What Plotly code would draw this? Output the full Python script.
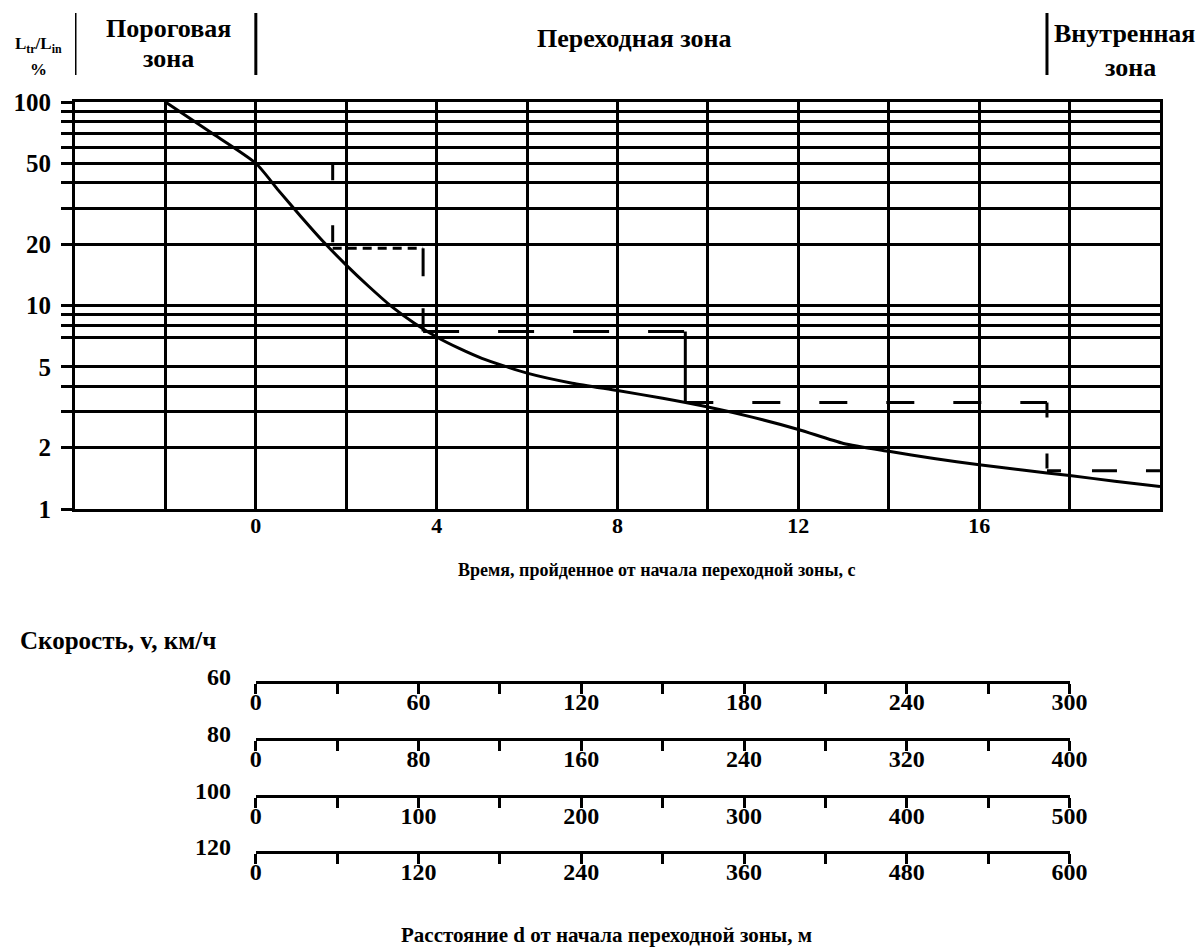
import plotly.graph_objects as go

# ---------------- data ----------------
# Main curve: L_tr/L_in (%) versus time from the start of the transition zone (s)
curve_t = [-2, -1, 0, 0.5, 1, 1.5, 2, 2.5, 3, 3.5, 4, 4.5, 5, 6, 7, 8, 9, 10, 11, 12, 13, 14, 15, 16, 17, 18, 19, 20]
curve_L = [100, 71, 50, 36.8, 27.3, 20.5, 15.8, 12.4, 9.9, 8.2, 7.0, 6.15, 5.5, 4.65, 4.15, 3.82, 3.5, 3.17, 2.82, 2.46, 2.1, 1.92, 1.77, 1.65, 1.55, 1.46, 1.37, 1.29]

# Stepwise (dashed) reduction
step_t = [1.7, 1.7, 3.7, 3.7, 9.5, 9.5, 17.5, 17.5, 20]
step_L = [50, 19.1, 19.1, 7.45, 7.45, 3.34, 3.34, 1.54, 1.54]

# Axes
x_range = [-4, 20]
x_grid = [-4, -2, 0, 2, 4, 6, 8, 10, 12, 14, 16, 18, 20]
x_label_vals = [0, 4, 8, 12, 16]
y_grid = [1, 2, 3, 4, 5, 7, 8, 9, 10, 20, 30, 40, 50, 60, 70, 80, 90, 100]
y_label_vals = [1, 2, 5, 10, 20, 50, 100]

# Zones
zone_bounds = [-4, 0, 17.5]

# Speed / distance scales
speeds = [60, 80, 100, 120]
dist_ticks_60 = [0, 60, 120, 180, 240, 300]
dist_ticks_80 = [0, 80, 160, 240, 320, 400]
dist_ticks_100 = [0, 100, 200, 300, 400, 500]
dist_ticks_120 = [0, 120, 240, 360, 480, 600]
dist_ticks = [dist_ticks_60, dist_ticks_80, dist_ticks_100, dist_ticks_120]

# ---------------- layout helpers ----------------
W, H = 1200, 947
LM, RM = 75, 40
FONT = "Liberation Serif"


def px_x(px):
    return (px - LM) / (W - LM - RM)


def px_y(py):
    return 1 - py / H


def t_frac(t):
    return (t - x_range[0]) / (x_range[1] - x_range[0])


def bfont(size):
    return dict(family=FONT, size=size, color="black", weight="bold")


fig = go.Figure()

# main curve
fig.add_trace(go.Scatter(
    x=curve_t, y=curve_L, mode="lines",
    line=dict(color="black", width=3, shape="spline", smoothing=0.6),
    hoverinfo="skip", showlegend=False))

# stepped dashed line, segment by segment
seg_dash = ["17px,45px", "9px,6px", "28px,32px", "36px,39px", "solid",
            "28px,39px", "15px,36px", "14px,31px,25px,29px"]
for i in range(len(step_t) - 1):
    fig.add_trace(go.Scatter(
        x=[step_t[i], step_t[i + 1]], y=[step_L[i], step_L[i + 1]],
        mode="lines", line=dict(color="black", width=3, dash=seg_dash[i]),
        hoverinfo="skip", showlegend=False))

x_minor = [v for v in x_grid if v not in x_label_vals]
y_minor = [v for v in y_grid if v not in y_label_vals]

fig.update_layout(
    width=W, height=H, autosize=False,
    margin=dict(l=LM, r=RM, t=0, b=0, pad=0, autoexpand=False),
    paper_bgcolor="white", plot_bgcolor="white",
    font=dict(family=FONT, color="black", weight="bold"),
    showlegend=False,
    xaxis=dict(
        domain=[0, 1], range=x_range,
        tickmode="array", tickvals=x_label_vals,
        ticktext=[str(v) for v in x_label_vals],
        ticks="", showgrid=True, gridcolor="black", gridwidth=3,
        minor=dict(tickmode="array", tickvals=x_minor, ticks="",
                   showgrid=True, gridcolor="black", gridwidth=3),
        showline=True, mirror=True, linecolor="black", linewidth=3,
        zeroline=False, tickfont=bfont(22), ticklabelstandoff=-5,
    ),
    yaxis=dict(
        type="log", range=[0, 2],
        domain=[px_y(509), px_y(102)],
        tickmode="array", tickvals=y_label_vals,
        ticktext=[str(v) for v in y_label_vals],
        ticks="outside", ticklen=11, tickwidth=3, tickcolor="black",
        showgrid=True, gridcolor="black", gridwidth=3,
        minor=dict(tickmode="array", tickvals=y_minor, ticks="outside",
                   ticklen=11, tickwidth=3, tickcolor="black",
                   showgrid=True, gridcolor="black", gridwidth=3),
        showline=True, mirror=True, linecolor="black", linewidth=3,
        zeroline=False, tickfont=bfont(25), ticklabelstandoff=5,
    ),
)

# speed scales: distance axes aligned with the time axis (d = v * t / 3.6)
scale_line_y = [681, 738, 795, 851]
for k, (v, ticks, ly) in enumerate(zip(speeds, dist_ticks, scale_line_y), start=2):
    t_end = ticks[-1] * 3.6 / v
    fig.add_trace(go.Scatter(
        x=[ticks[0], ticks[-1]], y=[0, 0], xaxis=f"x{k}", yaxis=f"y{k}",
        mode="markers", marker=dict(opacity=0), hoverinfo="skip", showlegend=False))
    mids = [(a + b) / 2 for a, b in zip(ticks, ticks[1:])]
    fig.layout[f"xaxis{k}"] = dict(
        domain=[t_frac(0), t_frac(t_end)], anchor=f"y{k}",
        range=[ticks[0], ticks[-1]],
        tickmode="array", tickvals=ticks, ticktext=[str(t) for t in ticks],
        ticks="outside", ticklen=10, tickwidth=3, tickcolor="black",
        minor=dict(tickmode="array", tickvals=mids, ticks="outside",
                   ticklen=10, tickwidth=3, tickcolor="black", showgrid=False),
        showline=True, linecolor="black", linewidth=3,
        showgrid=False, zeroline=False, tickfont=bfont(24), ticklabelstandoff=-13,
    )
    fig.layout[f"yaxis{k}"] = dict(
        domain=[px_y(ly), px_y(ly) + 0.02], anchor=f"x{k}",
        range=[0, 1], visible=False)
    fig.add_annotation(x=px_x(233), y=px_y(ly - 4), xref="paper", yref="paper",
                       text=str(v), showarrow=False, xanchor="right", yanchor="middle",
                       font=bfont(24))

# zone separators in the header
for zb in zone_bounds:
    fig.add_shape(type="line", xref="x", yref="paper", x0=zb, x1=zb,
                  y0=px_y(13), y1=px_y(75), line=dict(color="black", width=3))


def ann(text, px, py, size=21, xanchor="center"):
    fig.add_annotation(x=px_x(px), y=px_y(py), xref="paper", yref="paper",
                       text=text, showarrow=False, xanchor=xanchor, yanchor="middle",
                       font=bfont(size))


ann("L<sub>tr</sub>/L<sub>in</sub>", 38, 45, size=17)
ann("%", 38, 69, size=17)
ann("Пороговая", 168, 28, size=26)
ann("зона", 168, 58, size=26)
ann("Переходная зона", 634, 38, size=26)
ann("Внутренная", 1124, 33, size=26)
ann("зона", 1130, 68, size=26)
ann("Время, пройденное от начала переходной зоны, с", 656, 570, size=18)
ann("Скорость, v, км/ч", 18, 640, size=25, xanchor="left")
ann("Расстояние d от начала переходной зоны, м", 606, 935, size=21)

fig.write_html("out.html", config={"displayModeBar": False},
               post_script="document.body.style.margin='0';document.body.style.overflow='hidden';")
